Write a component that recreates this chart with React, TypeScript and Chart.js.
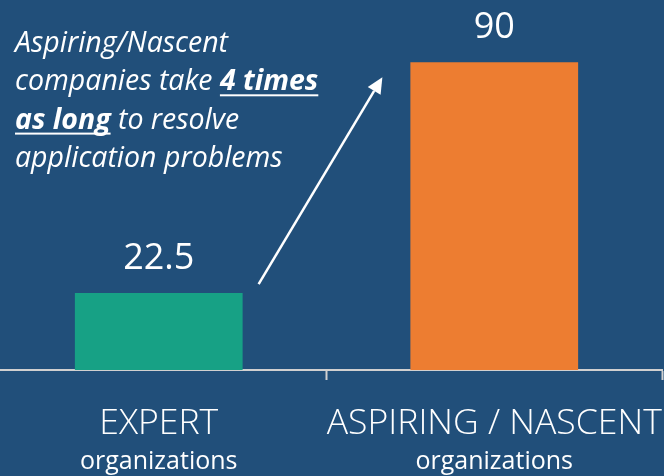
import React, { useEffect, useRef } from "react";
import { Chart, registerables } from "chart.js";

Chart.register(...registerables);

const categories = ["EXPERT", "ASPIRING / NASCENT"];
const subLabels = ["organizations", "organizations"];
const values = [22.5, 90];
const valueLabels = ["22.5", "90"];
const barColors = ["#17A185", "#ED7D31"];
const noteLines: { text: string; bold?: boolean }[][] = [
  [{ text: "Aspiring/Nascent" }],
  [{ text: "companies take " }, { text: "4 times", bold: true }],
  [{ text: "as long", bold: true }, { text: " to resolve" }],
  [{ text: "application problems" }],
];

const BG = "#214F7A";
const FONT = "'Open Sans', 'Noto Sans', sans-serif";

const overlay = {
  id: "overlay",
  afterDatasetsDraw(chart: any) {
    const ctx = chart.ctx as CanvasRenderingContext2D;
    const meta = chart.getDatasetMeta(0);
    const xs = chart.scales.x;
    ctx.save();
    ctx.fillStyle = "#FFFFFF";
    ctx.textAlign = "center";
    ctx.textBaseline = "alphabetic";
    // value labels
    meta.data.forEach((bar: any, i: number) => {
      ctx.font = `400 36px ${FONT}`;
      ctx.fillText(valueLabels[i], bar.x, bar.y - 24);
    });
    // category labels
    categories.forEach((c, i) => {
      const x = xs.getPixelForTick(i);
      ctx.font = `300 35.6px ${FONT}`;
      ctx.fillText(c, x, 434);
      ctx.font = `400 25px ${FONT}`;
      ctx.fillText(subLabels[i], x, 469);
    });
    // annotation text
    ctx.textAlign = "left";
    const left = 24;
    noteLines.forEach((line, li) => {
      let x = left;
      const y = 52 + li * 38.3;
      line.forEach((seg) => {
        ctx.font = `italic ${seg.bold ? 700 : 400} 28.5px ${FONT}`;
        ctx.fillText(seg.text, x, y);
        const w = ctx.measureText(seg.text).width;
        if (seg.bold) {
          ctx.fillRect(x, y + 4, w, 2);
        }
        x += w;
      });
    });
    // arrow from bar 0 label towards bar 1
    const b0 = meta.data[0] as any;
    const b1 = meta.data[1] as any;
    const sx = b0.x + b0.width / 2 + 16;
    const sy = b0.y - 9;
    const ex = b1.x - b1.width / 2 - 28;
    const ey = b1.y + 15;
    const ang = Math.atan2(ey - sy, ex - sx);
    const headLen = 16;
    const headW = 7.5;
    const bx = ex - headLen * Math.cos(ang);
    const by = ey - headLen * Math.sin(ang);
    ctx.strokeStyle = "#FFFFFF";
    ctx.lineWidth = 2.5;
    ctx.beginPath();
    ctx.moveTo(sx, sy);
    ctx.lineTo(bx, by);
    ctx.stroke();
    ctx.beginPath();
    ctx.moveTo(ex, ey);
    ctx.lineTo(bx + headW * Math.sin(ang), by - headW * Math.cos(ang));
    ctx.lineTo(bx - headW * Math.sin(ang), by + headW * Math.cos(ang));
    ctx.closePath();
    ctx.fill();
    ctx.restore();
  },
};

export default function App() {
  const ref = useRef<HTMLCanvasElement>(null);
  useEffect(() => {
    document.body.style.margin = "0";
    document.body.style.background = BG;
    document.body.style.overflow = "hidden";
    const chart = new Chart(ref.current!, {
      type: "bar",
      data: {
        labels: categories,
        datasets: [
          {
            data: values,
            backgroundColor: barColors,
            barPercentage: 0.5,
            categoryPercentage: 1,
          },
        ],
      },
      options: {
        responsive: false,
        animation: false,
        layout: { padding: { top: 28, bottom: 96, left: 0, right: 2 } },
        plugins: { legend: { display: false }, tooltip: { enabled: false } },
        scales: {
          x: {
            offset: true,
            grid: {
              display: true,
              offset: true,
              drawOnChartArea: false,
              drawTicks: true,
              tickLength: 10,
              tickWidth: 2,
              tickColor: "#D0D0D0",
            },
            border: { display: true, color: "#D0D0D0", width: 2 },
            ticks: { display: false },
          },
          y: { display: false, min: 0, max: 100 },
        },
      },
      plugins: [overlay],
    });
    return () => chart.destroy();
  }, []);
  return (
    <div style={{ width: 664, height: 476, overflow: "hidden", background: BG }}>
      <canvas
        ref={ref}
        width={673}
        height={476}
        style={{ display: "block", marginLeft: -9, width: 673, height: 476 }}
      />
    </div>
  );
}
